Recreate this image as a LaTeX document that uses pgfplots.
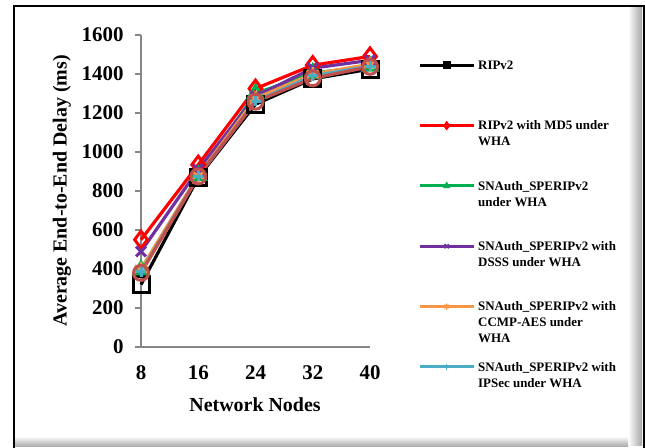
\documentclass[border=0pt]{standalone}
\usepackage{fontspec}
\setmainfont{Liberation Serif}
\usepackage{pgfplots}
\pgfplotsset{compat=1.18}
\definecolor{cblack}{HTML}{000000}
\definecolor{cred}{HTML}{FF0000}
\definecolor{cgreen}{HTML}{00B050}
\definecolor{cpurple}{HTML}{7030A0}
\definecolor{corange}{HTML}{F79646}
\definecolor{ccyan}{HTML}{4BACC6}
\definecolor{cbrown}{HTML}{C0504D}
\definecolor{axgray}{HTML}{868686}
\newcommand{\lgt}[1]{\smash{\parbox[t]{165bp}{\raggedright #1}}}
\newcommand{\limg}[1]{\draw[mark repeat=2,mark phase=2,line width=3bp,#1] plot coordinates {(0bp,4.3bp)(27bp,4.3bp)(54bp,4.3bp)};}
\begin{document}
\begin{tikzpicture}
\path[use as bounding box] (0bp,0bp) rectangle (645bp,448bp);
% frame
\fill[white] (13bp,0bp) rectangle (645bp,443bp);
\shade[left color=white,right color=gray!70] (628bp,2bp) rectangle (642bp,441bp);
\shade[top color=white,bottom color=gray!70] (15bp,1bp) rectangle (628bp,12bp);
\draw[line width=2.2bp] (14bp,0bp) -- (14bp,442bp) -- (644bp,442bp) -- (644bp,0bp);
\begin{axis}[
  at={(141bp,101bp)}, anchor=south west,
  scale only axis, width=229bp, height=312bp,
  xmin=8, xmax=40, ymin=0, ymax=1600,
  xtick={8,16,24,32,40}, ytick={0,200,...,1600},
  axis lines=left, axis line style={-, axgray, line width=1.3bp},
  tick align=outside, major tick length=6bp,
  ytick style={axgray, line width=1.3bp},
  xtick style={draw=none},
  /pgf/number format/assume math mode=true,
  /pgf/number format/1000 sep={},
  tick label style={font=\fontsize{21}{25}\selectfont\bfseries},
  yticklabel style={xshift=-8bp},
  xticklabel style={yshift=-9bp},
  every axis y label/.style={at={(axis description cs:-0.345,0.5)}, rotate=90, anchor=center},
  every axis x label/.style={at={(axis description cs:0.498,-0.186)}, anchor=center},
  label style={font=\fontsize{20}{24}\selectfont\bfseries},
  xlabel={Network Nodes},
  ylabel={Average End-to-End Delay (ms)},
  clip=false,
  legend style={draw=none, fill=none, at={(axis description cs:1.2096,0.9247)}, anchor=north west,
    inner sep=0pt, row sep=45.8bp, column sep=1bp,
    font=\fontsize{13}{16}\selectfont\bfseries,
    cells={anchor=base west, inner sep=0pt, text height=9bp, text depth=3bp}},
  every axis plot/.append style={line width=3.2bp},
]
\addplot[cblack, mark=square, mark size=8bp, mark options={line width=3bp},
  legend image code/.code={\limg{mark=square*,mark size=3.5bp,mark options={line width=1bp}}}]
  coordinates {(8,320)(16,870)(24,1245)(32,1375)(40,1425)};
\addlegendentry{\lgt{RIPv2}}
\addplot[cred, mark=diamond, mark size=8.5bp, mark options={line width=3bp},
  legend image code/.code={\limg{mark=diamond*,mark size=4bp,mark options={line width=1bp}}}]
  coordinates {(8,550)(16,935)(24,1325)(32,1445)(40,1490)};
\addlegendentry{\lgt{RIPv2 with MD5 under\\WHA}}
\addplot[cgreen, mark=triangle, mark size=8bp, mark options={line width=3bp},
  legend image code/.code={\limg{mark=triangle*,mark size=3.5bp,mark options={line width=1bp}}}]
  coordinates {(8,395)(16,880)(24,1300)(32,1405)(40,1440)};
\addlegendentry{\lgt{SNAuth\_SPERIPv2\\under WHA}}
\addplot[cpurple, mark=x, mark size=7bp, mark options={line width=3bp},
  legend image code/.code={\limg{mark=x,mark size=3bp,mark options={line width=1.5bp}}}]
  coordinates {(8,490)(16,910)(24,1285)(32,1430)(40,1470)};
\addlegendentry{\lgt{SNAuth\_SPERIPv2 with\\DSSS under WHA}}
\addplot[corange, mark=asterisk, mark size=7bp, mark options={line width=2.5bp},
  legend image code/.code={\limg{mark=asterisk,mark size=3bp,mark options={line width=1.5bp}}}]
  coordinates {(8,400)(16,880)(24,1275)(32,1400)(40,1450)};
\addlegendentry{\lgt{SNAuth\_SPERIPv2 with\\CCMP-AES under\\WHA}}
\addplot[ccyan, mark=+, mark size=5bp, mark options={line width=3bp},
  legend image code/.code={\limg{mark=+,mark size=3bp,mark options={line width=1.5bp}}}]
  coordinates {(8,385)(16,875)(24,1260)(32,1390)(40,1440)};
\addlegendentry{\lgt{SNAuth\_SPERIPv2 with\\IPSec under WHA}}
\addplot[cbrown, mark=o, mark size=7.5bp, mark options={line width=3bp}, forget plot]
  coordinates {(8,380)(16,875)(24,1258)(32,1378)(40,1437)};
\end{axis}
\end{tikzpicture}
\end{document}
